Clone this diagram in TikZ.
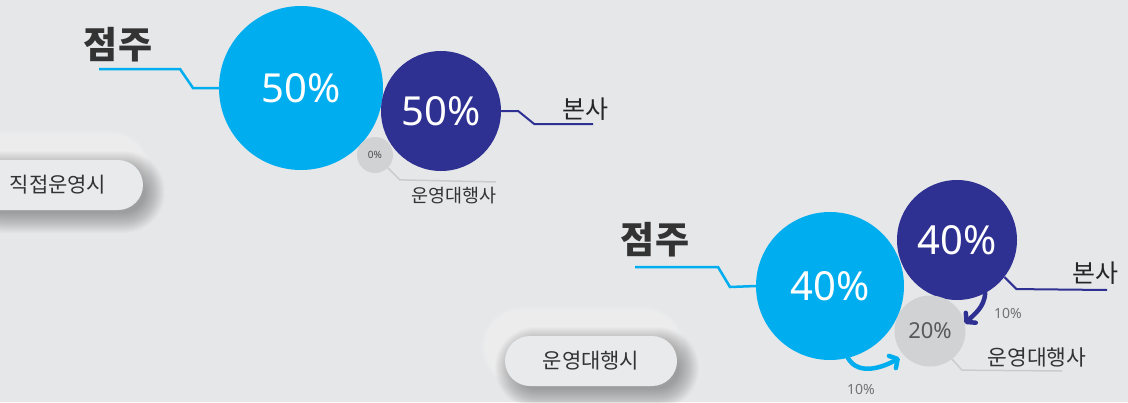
\documentclass[tikz,border=0pt]{standalone}
\usepackage{fontspec}
\newfontfamily\kr{Noto Sans CJK KR}
\newfontfamily\num{Noto Sans}
\usetikzlibrary{arrows.meta,positioning}

\definecolor{bgc}{HTML}{E6E7E9}
\definecolor{skyc}{HTML}{00AEEF}
\definecolor{navyc}{HTML}{2E3192}
\definecolor{greyc}{HTML}{D1D2D4}
\definecolor{txtc}{HTML}{333333}
\definecolor{pillc}{HTML}{E9EAEC}

\tikzset{
  share/.style={circle,inner sep=0pt,text=white,font=\num\fontsize{40}{40}\selectfont},
  owner/.style={font=\kr\bfseries\fontsize{37}{37}\selectfont,text=txtc},
  party/.style={font=\kr\fontsize{25}{25}\selectfont,text=black!85},
  agent/.style={font=\kr\fontsize{21.5}{21.5}\selectfont,text=txtc},
  pill/.style={rounded corners=25pt,fill=pillc,minimum height=50pt,inner sep=0pt,font=\kr\fontsize{21}{21}\selectfont,text=txtc},
  small/.style={font=\num\fontsize{14}{14}\selectfont,text=black!55},
  flow/.style={line width=4.5pt,-{Straight Barb[round,length=6pt,width=14pt]},line cap=round}
}

\begin{document}
\begin{tikzpicture}[x=1pt,y=-1pt]
\useasboundingbox (0,0) rectangle (1128,402);
\fill[bgc] (0,0) rectangle (1128,402);

% buttons
\foreach \cx/\cy/\w/\t/\n in {58/185/170/직접운영시/direct, 591/361/172/운영대행시/agency}{
  \foreach \k in {0,...,16}
    \fill[white,opacity=.05,rounded corners={25pt+\k pt}] (\cx-\w/2-8-\k,\cy-25-14-\k) rectangle (\cx+\w/2-8+\k,\cy+25-14+\k);
  \foreach \k in {-4,...,16}
    \fill[black,opacity=.014,rounded corners={25pt+\k pt}] (\cx-\w/2+6-\k,\cy-25+7-\k) rectangle (\cx+\w/2+6+\k,\cy+25+7+\k);
  \node[pill,minimum width=\w pt] (\n) at (\cx,\cy) {\t};
}

% direct operation
\node[share,fill=skyc,minimum size=164pt] (c1) at (301,88) {50\%};
\node[share,fill=navyc,minimum size=120pt] (n1) at (441,111) {50\%};
\node[share,fill=greyc,minimum size=36pt,text=black!70,font=\num\fontsize{10}{10}\selectfont] (g1) at (375,155) {0\%};

\node[owner] (o1) at (118,45) {점주};
\node[party] (b1) at (585,109) {본사};
\node[agent,font=\kr\fontsize{18.5}{18.5}\selectfont] (a1) at (454,196) {운영대행사};

\coordinate (jl1) at (99,69);
\coordinate (bl1) at (593,124);
\coordinate (ol1) at (496,182);
\draw[skyc,line width=2.5pt] (jl1) -- ++(81,0) -- ++(13,19) -- (c1.west);
\draw[navyc,line width=2pt] (n1.east) -- ++(17,0) -- ++(16,13) -- (bl1);
\draw[black!20,line width=1.5pt] (g1.-45) -- ++(12,12) -- (ol1);

% agency operation
\node[share,fill=skyc,minimum size=148pt] (c2) at (830,286) {40\%};
\node[share,fill=navyc,minimum size=120pt] (n2) at (957,240) {40\%};
\node[share,fill=greyc,minimum size=71pt,text=black!65,font=\num\fontsize{22}{22}\selectfont] (g2) at (930,331) {20\%};

\node[owner] (o2) at (655,240) {점주};
\node[party] (b2) at (1095,273) {본사};
\node[agent] (a2) at (1037,357) {운영대행사};

\coordinate (jl2) at (635,267);
\coordinate (bl2) at (1107,290);
\coordinate (ol2) at (1062,371);
\draw[skyc,line width=2.5pt] (jl2) -- ++(83,0) -- ++(12,20) -- (c2.west);
\draw[navyc,line width=2pt] (n2.-38) -- ++(12,12) -- (bl2);
\draw[black!20,line width=1.5pt] (g2.-52) -- ++(10,11) -- (ol2);

\draw[flow,navyc] (n2.-62) to[out=-95,in=45] (g2.12);
\draw[flow,skyc,shorten >=5pt] (c2.-76) to[out=-60,in=210] (g2.223);
\node[small] (p1) at (1008,313) {10\%};
\node[small] (p2) at (861,389) {10\%};
\end{tikzpicture}
\end{document}
